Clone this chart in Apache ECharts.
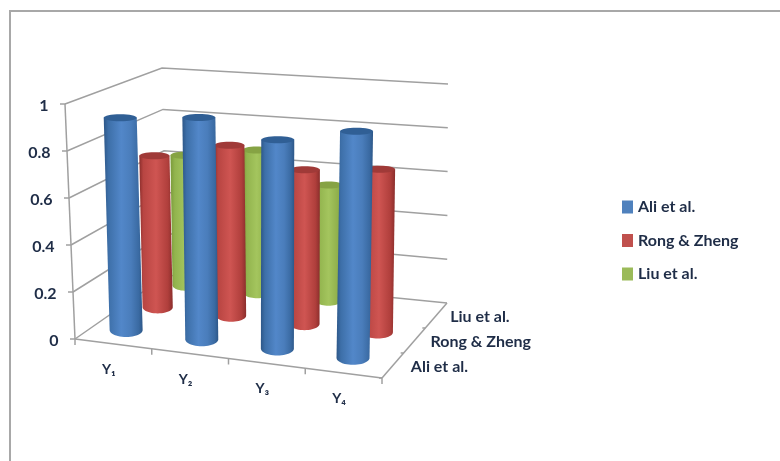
<!DOCTYPE html>
<html>
<head>
<meta charset="utf-8">
<script src="https://cdn.jsdelivr.net/npm/echarts@6/dist/echarts.min.js"></script>
<style>
html,body{margin:0;padding:0;background:#fff}
#c{width:780px;height:461px;filter:blur(0.45px)}
</style>
</head>
<body>
<div id="c"></div>
<script>
// ---- data ----
const categories = ['Y₁', 'Y₂', 'Y₃', 'Y₄'];
const depthLabels = ['Ali et al.', 'Rong & Zheng', 'Liu et al.'];
const yTicks = [0, 0.2, 0.4, 0.6, 0.8, 1];
const aliValues = [0.925, 0.955, 0.89, 0.955];
const rongValues = [0.695, 0.77, 0.69, 0.72];
const liuValues = [0.625, 0.675, 0.54, null];

// ---- 3D box projection (unit cube -> screen) ----
const C = {
  fl0:[75,339], fr0:[382,378], br0:[447,303], bl0:[167,275],
  fl1:[65,104], fr1:[387,133], br1:[448,84],  bl1:[162,68]
};
const mix = (a,b,t)=>[a[0]+(b[0]-a[0])*t, a[1]+(b[1]-a[1])*t];
function project(u,v,h){
  const f0=mix(C.fl0,C.fr0,u), b0=mix(C.bl0,C.br0,u);
  const f1=mix(C.fl1,C.fr1,u), b1=mix(C.bl1,C.br1,u);
  return mix(mix(f0,b0,v), mix(f1,b1,v), h);
}
// axis value -> unit cube through the (hidden) ECharts scales
function proj(api, params, x, val, v){
  const g = params.coordSys;
  const p = api.coord([x, val]);
  return project((p[0]-g.x)/g.width, v, 1-(p[1]-g.y)/g.height);
}
const FAMILY = 'Lato, "Open Sans", sans-serif';
const FONT = 'bold 16px ' + FAMILY;
const FONT_SMALL = 'bold 14px ' + FAMILY;
const TEXT = '#1f2d47';
const LINE = {stroke:'#a0a0a0', lineWidth:1.5, fill:null};

function renderFrame(params, api){
  const kids = [];
  const P = (x,val,v)=>proj(api,params,x,val,v);
  const seg = (a,b)=>kids.push({type:'line',shape:{x1:a[0],y1:a[1],x2:b[0],y2:b[1]},style:LINE});
  yTicks.forEach(t=>{
    const a=P(0,t,0), b=P(0,t,1), c=P(4,t,1);
    kids.push({type:'polyline',shape:{points:[a,b,c]},style:LINE});
    seg([a[0]-5,a[1]],a);
    kids.push({type:'text',style:{text:String(t),x:a[0]-16.5,y:a[1]+1.5,align:'right',verticalAlign:'middle',font:FONT,fill:TEXT}});
  });
  seg(P(0,0,0),P(0,1,0));
  seg(P(0,0,0),P(4,0,0));
  seg(P(4,0,0),P(4,0,1));
  for(let i=0;i<=4;i++){
    const a=P(i,0,0);
    seg(a,[a[0],a[1]+6]);
  }
  for(let i=0;i<3;i++){
    const a=P(4,0,i/3);
    seg(a,[a[0]-3,a[1]]);
  }
  categories.forEach((c,i)=>{
    const a=P(i+0.5,0,0);
    kids.push({type:'text',style:{text:c,x:a[0]-4.5,y:a[1]+25.5,align:'center',verticalAlign:'middle',font:FONT_SMALL,fill:TEXT}});
  });
  depthLabels.forEach((c,i)=>{
    const a=P(4,0,(i+0.5)/3);
    kids.push({type:'text',style:{text:c,x:a[0]+18-i*2,y:a[1]+1,align:'left',verticalAlign:'middle',font:FONT,fill:TEXT}});
  });
  return {type:'group',children:kids};
}

const PAL = [
  {body:[[0,'#2d5788'],[.12,'#3d6fa8'],[.45,'#5287c9'],[.7,'#4a7dbb'],[.9,'#3a6aa2'],[1,'#2d5788']], top:'#305f95'},
  {body:[[0,'#8b2e2c'],[.12,'#b84542'],[.5,'#cf5552'],[.85,'#b03f3c'],[1,'#8b2e2c']], top:'#a03a38'},
  {body:[[0,'#7a9a3a'],[.15,'#92b44e'],[.5,'#a4c55e'],[.85,'#8eae4a'],[1,'#7a9a3a']], top:'#86a344'}
];
const topShift = [-1, 1, 0];
const baseShift = [-2, 0, -1];
const baseLift = [-3, -4, -4];
function renderCyl(row){
  const v=(row+0.5)/3;
  const r=16.5-row*1.4, ryT=3.5, ryB=7-row*0.8;
  return function(params, api){
    const i=api.value(0), val=api.value(1);
    if(val==null||isNaN(val)) return;
    const b=proj(api,params,i+0.5,0,v), t=proj(api,params,i+0.5,val,v);
    b[0]+=baseShift[row]; b[1]+=baseLift[row]; t[0]+=topShift[row]; t[1]-=1;
    const pts=[[t[0]-r,t[1]],[t[0]+r,t[1]]];
    for(let k=0;k<=24;k++){
      const a=Math.PI*k/24;
      pts.push([b[0]+r*Math.cos(a), b[1]+ryB*Math.sin(a)]);
    }
    const grad={type:'linear',x:0,y:0,x2:1,y2:0,colorStops:PAL[row].body.map(s=>({offset:s[0],color:s[1]}))};
    return {type:'group',children:[
      {type:'polygon',shape:{points:pts},style:{fill:grad}},
      {type:'ellipse',shape:{cx:t[0],cy:t[1],rx:r,ry:ryT},style:{fill:PAL[row].top}}
    ]};
  };
}
const toData = arr=>arr.map((y,i)=>[i,y]);
const flat=['#4f81bd','#c0504d','#9bbb59'];

const chart=echarts.init(document.getElementById('c'),null,{renderer:'canvas'});
chart.setOption({
  animation:false,
  backgroundColor:'#fff',
  grid:{left:100,right:100,top:100,bottom:100,show:false},
  xAxis:{type:'value',min:0,max:4,show:false},
  yAxis:{type:'value',min:0,max:1,show:false},
  legend:{
    orient:'vertical',left:622,top:199,padding:0,itemWidth:11,itemHeight:13,itemGap:17.5,icon:'rect',
    data:depthLabels,
    textStyle:{fontFamily:FAMILY,fontWeight:'bold',fontSize:16,color:TEXT},
    selectedMode:false
  },
  graphic:[
    {type:'line',shape:{x1:9,y1:11,x2:780,y2:11},style:{stroke:'#a8a8a8',lineWidth:2}},
    {type:'line',shape:{x1:10,y1:10,x2:10,y2:461},style:{stroke:'#a8a8a8',lineWidth:2}}
  ],
  series:[
    {type:'custom',name:'frame',renderItem:renderFrame,data:[[0,0]],clip:false,silent:true,z:1},
    {type:'custom',name:depthLabels[2],renderItem:renderCyl(2),data:toData(liuValues),itemStyle:{color:flat[2]},silent:true,z:2},
    {type:'custom',name:depthLabels[1],renderItem:renderCyl(1),data:toData(rongValues),itemStyle:{color:flat[1]},silent:true,z:3},
    {type:'custom',name:depthLabels[0],renderItem:renderCyl(0),data:toData(aliValues),itemStyle:{color:flat[0]},silent:true,z:4}
  ]
});
</script>
</body>
</html>
